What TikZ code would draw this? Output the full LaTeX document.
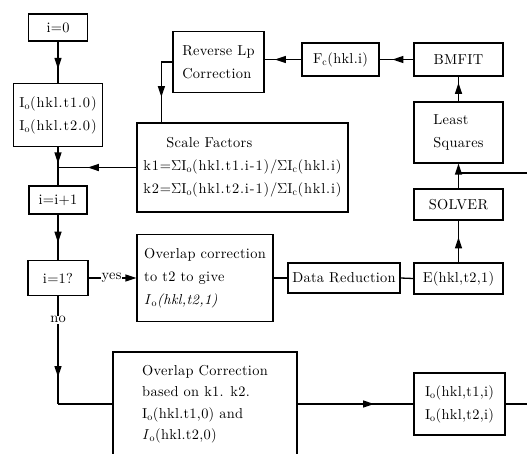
\documentclass[tikz,border=0pt]{standalone}
\usepackage{fontspec}
\setmainfont{lmroman10-regular.otf}[ItalicFont=lmroman10-italic.otf,
  BoldFont=lmroman10-bold.otf]
\usetikzlibrary{arrows.meta,decorations.markings}
\newcommand\Io{I$_{\mathrm{o}}$}
\newcommand\Ic{I$_{\mathrm{c}}$}
\newcommand\Iit{\textit{I}$_{\mathrm{o}}$}
\newcommand\boxfont{\fontsize{14.4}{23}\selectfont\addfontfeatures{LetterSpace=2}}
\newcommand\widetxt{\addfontfeatures{LetterSpace=6}}
\tikzset{
  box/.style={draw, line width=1.2pt, inner sep=0pt, align=left, font=\boxfont},
  conn/.style={line width=1.3pt},
  midarr/.style={postaction={decorate}, decoration={markings,
    mark=at position #1 with {\arrow{Triangle[length=11pt,width=7pt]}}}},
  midarr/.default=0.6,
  endarr/.style={-{Triangle[length=11pt,width=7pt]}},
  lbl/.style={fill=white, inner sep=1pt, font=\boxfont},
}
\begin{document}
\begin{tikzpicture}[x=1pt,y=-1pt]
\useasboundingbox (0,0) rectangle (527,453);

% left column: loop counter and tests
\node[box, minimum width=59pt, minimum height=27pt] (i0) at (58,27.5) {i=0};
\node[box, minimum width=89pt, minimum height=63pt] (io0) at (58,115)
  {\widetxt\Io(hkl.t1.0)\\\widetxt\Io(hkl.t2.0)};
\node[box, minimum width=58pt, minimum height=28pt] (inc) at (58,200) {i=i+1};
\node[box, minimum width=60pt, minimum height=35pt] (cond) at (58,278) {i=1?};

% scale factors and back-correction
\node[box, minimum width=211pt, minimum height=89pt] (sf) at (242.5,167.5)
  {\hspace{23pt}Scale Factors\\
   \widetxt k1=$\Sigma$\Io(hkl.t1.i-1)/$\Sigma$\Ic(hkl.i)\\
   \widetxt k2=$\Sigma$\Io(hkl.t2.i-1)/$\Sigma$\Ic(hkl.i)};
\node[box, minimum width=91pt, minimum height=61pt] (rlp) at (218.5,62)
  {Reverse Lp\\Correction};
\node[box, minimum width=77pt, minimum height=33pt] (fc) at (340.5,59.5)
  {F$_{\mathrm{c}}$(hkl.i)};

% right column: refinement chain
\node[box, minimum width=89pt, minimum height=33pt] (bm) at (458.5,59.5) {BMFIT};
\node[box, minimum width=89pt, minimum height=61pt] (ls) at (458.5,132.5)
  {Least\\Squares};
\node[box, minimum width=89pt, minimum height=31pt] (sol) at (458.5,204.5) {SOLVER};
\node[box, minimum width=89pt, minimum height=31pt] (e) at (458.5,278.5) {E(hkl,t2,1)};
\node[box, minimum width=112pt, minimum height=30pt] (dr) at (344,278) {Data Reduction};

% overlap corrections
\node[box, minimum width=136pt, minimum height=87pt] (ovs) at (205,278)
  {Overlap correction\\to t2 to give\\\textit{I}$_{\mathrm{o}}$\textit{(hkl,t2,1)}};
\node[box, minimum width=184pt, minimum height=104pt,
      font=\fontsize{14.4}{21.5}\selectfont\addfontfeatures{LetterSpace=2}] (ovb) at (205,404)
  {Overlap Correction\\based on k1. k2.\\\Io(hkl.t1,0) and\\\Iit(hkl.t2,0)};
\node[box, minimum width=91pt, minimum height=62pt] (ioi) at (459.5,404)
  {\Io(hkl,t1,i)\\\Io(hkl,t2,i)};

% helper points
\coordinate (edgeR) at (530,0);
\coordinate (fbR) at (530,173);
\coordinate (jn) at (io0.south |- sf.west);
\coordinate (nobend) at (cond.south |- ovb.west);
\coordinate (sfin) at ([xshift=25pt]sf.north west);
\coordinate (rlpbend) at (rlp.west -| sfin);

% main loop
\draw[conn, midarr=0.66] (i0) -- (io0);
\draw[conn, midarr=0.8] (io0.south) -- (jn);
\draw[conn] (jn) -- (inc.north);
\draw[conn, midarr=0.62] (sf.west) -- (jn);
\draw[conn, midarr=0.62] (inc) -- (cond);
\draw[conn, endarr] (cond.east) -- node[lbl, pos=0.48] {yes} (ovs.west);
\draw[conn, midarr=0.75] (cond.south) -- node[lbl, pos=0.22] {no} (nobend);
\draw[conn] (nobend) -- (ovb.west);
\draw[conn, midarr=0.66] (ovb.east) -- (ioi.west);
\draw[conn] (ioi.east) -- (ioi.east -| edgeR);

% first-cycle branch
\draw[conn] (ovs.east) -- (dr.west);
\draw[conn] (dr.east) -- (e.west);
\draw[conn, midarr=0.6] (e) -- (sol);
\draw[conn, endarr] (sol) -- (ls);
\draw[conn] (fbR) -- (fbR -| ls.south);
\draw[conn, midarr=0.75] (ls) -- (bm);
\draw[conn, midarr=0.62] (bm) -- (fc);
\draw[conn, midarr=0.72] (fc.west) -- (fc.west -| rlp.east);
\draw[conn] (rlp.west) -- (rlpbend);
\draw[conn, midarr=0.58] (rlpbend) -- (sfin);
\end{tikzpicture}
\end{document}
